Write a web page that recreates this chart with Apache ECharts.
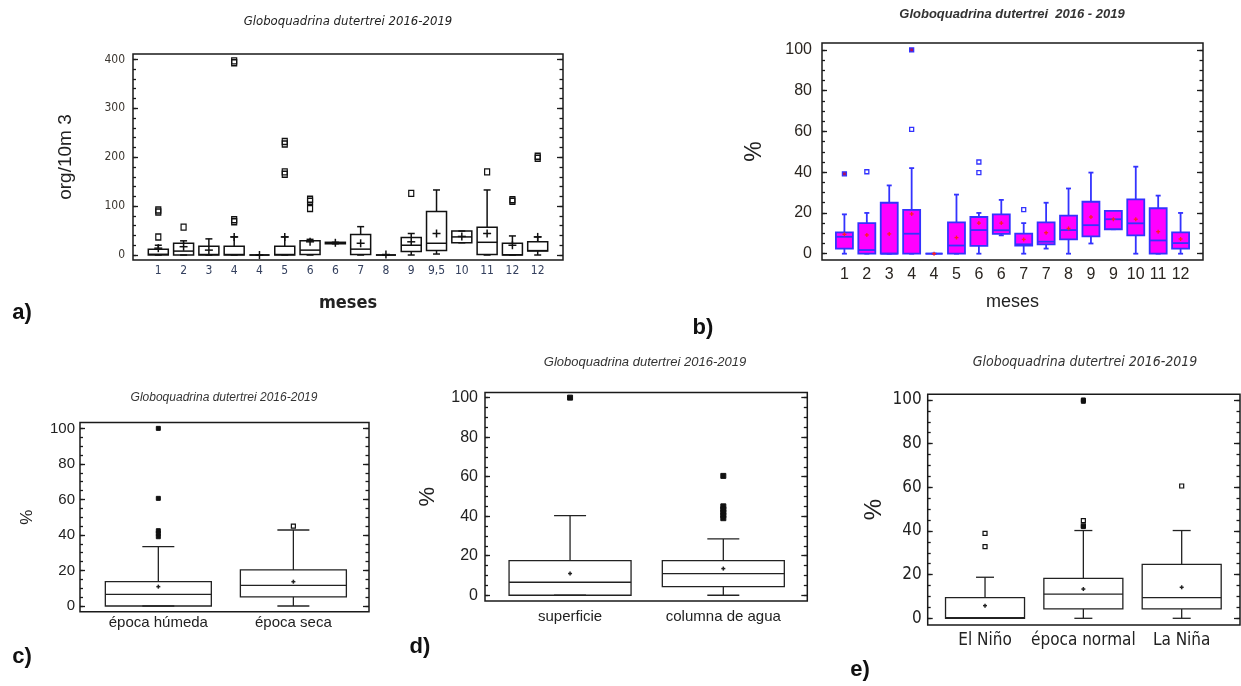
<!DOCTYPE html>
<html><head><meta charset="utf-8">
<script src="https://cdn.jsdelivr.net/npm/echarts@6/dist/echarts.min.js"></script>
<style>html,body{margin:0;padding:0;background:#fff}#c{width:1241px;height:686px}</style>
</head><body><div id="c"></div>
<script>
// ---------- DATA ----------
// panel a (org/10m3 by month)
const aLabels = ['1','2','3','4','4','5','6','6','7','8','9','9,5','10','11','12','12'];
// [min, Q1, median, Q3, max]
const aBoxes = [
  [0,0,1.5,12,20],[0,0,8,24,29],[0,0,1,18,33],[0,0,1,18,37],[0,0,0,0,0],
  [0,0,1,18,37],[0,1,10,29,32],[23,23,25,26,26],[0,1,12,42,58],[0,0,0,0,0],
  [0,7,20,36,44],[2,9,24,89,133],[25,25,37,49,49],[0,1,26,57,133],[0,0,0.5,24,39],[0,8,9,27,37]
];
const aMeans = [14,17,10,37,0,37,27,25,24,1,27,44,38,44,20,37];
const aOutliers = [[1,88],[1,92],[1,37],[2,57],[4,72],[4,68],[4,397],[4,393],[6,232],[6,227],[6,170],[6,165],
  [7,114],[7,110],[7,95],[11,126],[14,170],[15,113],[15,110],[16,202],[16,198]];

// panel b (% by month)
const bLabels = ['1','2','3','4','4','5','6','6','7','7','8','9','9','10','11','12'];
const bBoxes = [
  [0,2.5,8.3,10.5,19.3],[0,0,1.8,15,20],[0,0,0,25,33.5],[0,0,9.8,21.5,42],[0,0,0,0,0],
  [0,0,4,15.4,29],[0,3.8,11.6,18,20],[9,9.7,11.5,19.3,26.4],[0,4,4.6,9.8,15],[2.5,4.6,5.9,15.4,25],
  [0,7,11.6,18.7,32],[5,8.5,14,25.5,39.8],[12,12,16.9,21,21],[0,9,14.9,26.7,42.7],[0,0,6.5,22.3,28.5],[0,2.5,5.2,10.5,20]
];
const bMeans = [9.5,9.2,9.7,19.5,0,7.9,15,15,7,10.3,12.4,18,16.9,16.9,10.8,7.2];
const bOutliersOpen = [[2,40.2],[4,61],[7,45],[7,39.8],[9,21.6]];
const bOutliersFilled = [[1,39.2],[4,100]];

// panel c (season)
const cLabels = ['época húmeda','época seca'];
const cBoxes = [[0,0,6.6,13.7,33.4],[0,5.1,11.6,20.3,42.8]];
const cMeans = [10.9,13.7];
const cOutliersFilled = [[1,100],[1,60.6],[1,42.4],[1,40.9],[1,39]];
const cOutliersOpen = [[2,45]];

// panel d (depth)
const dLabels = ['superficie','columna de agua'];
const dBoxes = [[0,0,6.6,17.5,40.3],[0,4.4,11,17.5,28.5]];
const dMeans = [11,13.5];
const dOutliersFilled = [[1,100],[2,60.4],[2,45],[2,43.5],[2,42],[2,40.5],[2,39]];

// panel e (ENSO)
const eLabels = ['El Niño','época normal','La Niña'];
const eBoxes = [[0,0,0.3,9.5,18.8],[0,4.3,11.1,18.3,40.2],[0,4.3,9.5,24.7,40.2]];
const eMeans = [5.8,13.4,14.2];
const eOutliersOpen = [[1,38.9],[1,32.8],[2,44.7],[2,42.4],[3,60.6]];
const eOutliersFilled = [[2,100],[2,99.4],[2,42]];

const title = 'Globoquadrina dutertrei 2016-2019';

// ---------- CHART ----------
const SANS = "'Liberation Sans', Arial, sans-serif";
const NARROW = "'Liberation Sans Narrow', 'Arial Narrow', 'DejaVu Sans Condensed', sans-serif";

function steps(a, b, s) { const r = []; for (let v = a; v <= b + 1e-9; v += s) r.push(Math.round(v * 1000) / 1000); return r; }

const option = { animation: false, backgroundColor: '#fff', grid: [], xAxis: [], yAxis: [], series: [], graphic: [] };

function addPanel(p) {
  const gi = option.grid.length;
  option.grid.push({ left: p.left, top: p.top, width: p.width, height: p.height, show: true,
    borderColor: '#1a1a1a', borderWidth: 1.5, backgroundColor: 'transparent' });
  const xi = option.xAxis.length;
  const catVals = p.labels.map((_, i) => i + 1);
  option.xAxis.push({
    type: 'value', gridIndex: gi, min: p.xMin, max: p.xMax, position: 'bottom',
    axisLine: { show: false }, axisTick: { show: false }, splitLine: { show: false },
    axisLabel: { customValues: catVals, formatter: v => { const s = p.labels[Math.round(v) - 1]; return s === undefined ? '' : s; },
      margin: p.xLabel.margin, fontSize: p.xLabel.size, fontFamily: p.xLabel.family, color: p.xLabel.color || '#222' },
    name: p.xName ? p.xName.text : '', nameLocation: 'middle', nameGap: p.xName ? p.xName.gap : 0,
    nameTextStyle: p.xName ? { fontSize: p.xName.size, fontFamily: p.xName.family, fontWeight: p.xName.weight || 'normal', color: '#222' } : {}
  });
  const yi = option.yAxis.length;
  const majors = steps(0, p.yTop, p.major), minors = steps(0, p.yTop, p.minor);
  const base = { type: 'value', gridIndex: gi, min: p.yMin, max: p.yMax, splitLine: { show: false }, axisLine: { show: false } };
  const tickStyle = { color: '#1a1a1a', width: 1.3 };
  option.yAxis.push(Object.assign({}, base, { position: 'left',
    axisTick: { inside: true, length: 5, customValues: majors, lineStyle: tickStyle },
    axisLabel: { customValues: majors, margin: p.yLabel.margin, fontSize: p.yLabel.size, fontFamily: p.yLabel.family, color: p.yLabel.color || '#222' },
    name: p.yName.text, nameLocation: 'middle', nameRotate: 90, nameGap: p.yName.gap,
    nameTextStyle: { fontSize: p.yName.size, fontFamily: p.yName.family, color: '#222' } }));
  option.yAxis.push(Object.assign({}, base, { position: 'left', axisLabel: { show: false },
    axisTick: { inside: true, length: 3, customValues: minors, lineStyle: tickStyle } }));
  option.yAxis.push(Object.assign({}, base, { position: 'right', axisLabel: { show: false },
    axisTick: { inside: true, length: 6, customValues: majors, lineStyle: tickStyle } }));
  option.yAxis.push(Object.assign({}, base, { position: 'right', axisLabel: { show: false },
    axisTick: { inside: true, length: 3.5, customValues: minors, lineStyle: tickStyle } }));

  const data = p.boxes.map((b, i) => [i + 1, b[0], b[1], b[2], b[3], b[4], p.means[i]]);
  const st = p.style;
  option.series.push({
    type: 'custom', xAxisIndex: xi, yAxisIndex: yi, data: data, silent: true, z: 2,
    dimensions: ['x', 'min', 'q1', 'med', 'q3', 'max', 'mean'],
    encode: { x: 0, y: [1, 2, 3, 4, 5, 6] },
    renderItem: function (params, api) {
      const x = api.value(0);
      const c = v => api.coord([x, v]);
      const cx = c(api.value(1))[0];
      const yMin = c(api.value(1))[1], yQ1 = c(api.value(2))[1], yMed = c(api.value(3))[1],
            yQ3 = c(api.value(4))[1], yMax = c(api.value(5))[1], yMean = c(api.value(6))[1];
      const w = st.boxWidth, cw = st.capWidth, pl = st.plus;
      const ls = { stroke: st.stroke, lineWidth: st.lineWidth, fill: null };
      const L = (x1, y1, x2, y2, s) => ({ type: 'line', shape: { x1, y1, x2, y2 }, style: s || ls });
      const ms = { stroke: st.meanColor, lineWidth: st.meanWidth };
      return { type: 'group', children: [
        L(cx, yQ3, cx, yMax), L(cx, yQ1, cx, yMin),
        L(cx - cw / 2, yMax, cx + cw / 2, yMax), L(cx - cw / 2, yMin, cx + cw / 2, yMin),
        { type: 'rect', shape: { x: cx - w / 2, y: yQ3, width: w, height: yQ1 - yQ3 },
          style: { fill: st.fill, stroke: st.stroke, lineWidth: st.lineWidth } },
        L(cx - w / 2, yMed, cx + w / 2, yMed),
        L(cx - pl / 2, yMean, cx + pl / 2, yMean, ms), L(cx, yMean - pl / 2, cx, yMean + pl / 2, ms)
      ] };
    }
  });
  (p.outliers || []).forEach(o => {
    option.series.push({
      type: 'scatter', xAxisIndex: xi, yAxisIndex: yi, data: o.data, silent: true, z: 3,
      symbol: 'rect', symbolSize: o.size,
      itemStyle: { color: o.fill || 'rgba(0,0,0,0)', borderColor: o.stroke, borderWidth: o.width, opacity: 1 }
    });
  });
}

addPanel({
  left: 133, top: 54, width: 430, height: 206, xMin: 0, xMax: 17, yMin: -10.2, yMax: 411,
  yTop: 400, major: 100, minor: 20, labels: aLabels, boxes: aBoxes, means: aMeans,
  style: { boxWidth: 20, capWidth: 7, plus: 8, stroke: '#111', lineWidth: 1.5, fill: 'rgba(0,0,0,0)', meanColor: '#111', meanWidth: 1.5 },
  outliers: [{ data: aOutliers, size: [5, 6], stroke: '#111', width: 1.3 }],
  yLabel: { size: 12, family: NARROW, margin: 8, color: '#3b3630' },
  xLabel: { size: 12, family: NARROW, margin: 5, color: '#34405e' },
  yName: { text: 'org/10m 3', size: 19, family: SANS, gap: 58 },
  xName: { text: 'meses', size: 18, family: NARROW, weight: 'bold', gap: 34 }
});
addPanel({
  left: 822, top: 43, width: 381, height: 217, xMin: 0, xMax: 17, yMin: -3.1, yMax: 103.4,
  yTop: 100, major: 20, minor: 5, labels: bLabels, boxes: bBoxes, means: bMeans,
  style: { boxWidth: 17, capWidth: 5, plus: 4, stroke: '#3333ff', lineWidth: 1.8, fill: '#ff00ff', meanColor: '#ff2020', meanWidth: 1.3 },
  outliers: [{ data: bOutliersOpen, size: 4, stroke: '#3333ff', width: 1.3 },
             { data: bOutliersFilled, size: 4, stroke: '#3333ff', width: 1.3, fill: '#b0105a' }],
  yLabel: { size: 16, family: SANS, margin: 10, color: '#2a2520' },
  xLabel: { size: 16, family: SANS, margin: 7, color: '#2a2520' },
  yName: { text: '%', size: 23, family: SANS, gap: 56 },
  xName: { text: 'meses', size: 18, family: SANS, gap: 33 }
});
addPanel({
  left: 80, top: 422.5, width: 289, height: 189.2, xMin: 0.42, xMax: 2.56, yMin: -3.2, yMax: 103.3,
  yTop: 100, major: 20, minor: 5, labels: cLabels, boxes: cBoxes, means: cMeans,
  style: { boxWidth: 106, capWidth: 32, plus: 4, stroke: '#222', lineWidth: 1.3, fill: 'rgba(0,0,0,0)', meanColor: '#222', meanWidth: 1.5 },
  outliers: [{ data: cOutliersFilled, size: 4, stroke: '#111', width: 1, fill: '#111' },
             { data: cOutliersOpen, size: 4, stroke: '#111', width: 1.2 }],
  yLabel: { size: 15, family: SANS, margin: 5 },
  xLabel: { size: 15, family: SANS, margin: 4 },
  yName: { text: '%', size: 17, family: SANS, gap: 44 }
});
addPanel({
  left: 485, top: 392.5, width: 322.3, height: 208.5, xMin: 0.445, xMax: 2.548, yMin: -2.9, yMax: 102.6,
  yTop: 100, major: 20, minor: 5, labels: dLabels, boxes: dBoxes, means: dMeans,
  style: { boxWidth: 122, capWidth: 32, plus: 4, stroke: '#222', lineWidth: 1.3, fill: 'rgba(0,0,0,0)', meanColor: '#222', meanWidth: 1.5 },
  outliers: [{ data: dOutliersFilled, size: 5, stroke: '#111', width: 1, fill: '#111' }],
  yLabel: { size: 16, family: SANS, margin: 7 },
  xLabel: { size: 15, family: SANS, margin: 8 },
  yName: { text: '%', size: 22, family: SANS, gap: 46 }
});
addPanel({
  left: 927.7, top: 394.3, width: 312.3, height: 230.7, xMin: 0.417, xMax: 3.593, yMin: -3.07, yMax: 102.6,
  yTop: 100, major: 20, minor: 5, labels: eLabels, boxes: eBoxes, means: eMeans,
  style: { boxWidth: 79, capWidth: 18, plus: 4, stroke: '#222', lineWidth: 1.3, fill: 'rgba(0,0,0,0)', meanColor: '#222', meanWidth: 1.5 },
  outliers: [{ data: eOutliersOpen, size: 4, stroke: '#111', width: 1.2 },
             { data: eOutliersFilled, size: 4, stroke: '#111', width: 1, fill: '#111' }],
  yLabel: { size: 17, family: NARROW, margin: 6 },
  xLabel: { size: 17, family: NARROW, margin: 7 },
  yName: { text: '%', size: 24, family: SANS, gap: 41 }
});

function txt(x, y, text, font, color) {
  option.graphic.push({ type: 'text', x: x, y: y, silent: true,
    style: { text: text, font: font, fill: color || '#222', align: 'center', verticalAlign: 'middle' } });
}
txt(348, 22, title, 'italic 13px ' + NARROW, '#222');
txt(1012, 14, 'Globoquadrina dutertrei  2016 - 2019', 'italic bold 13px ' + SANS, '#333');
txt(224, 398, title, 'italic 12px ' + SANS, '#333');
txt(645, 362, title, 'italic 13px ' + SANS, '#333');
txt(1085, 362, title, 'italic 14px ' + NARROW, '#333');
txt(22, 313, 'a)', 'bold 22px ' + SANS, '#111');
txt(703, 328, 'b)', 'bold 22px ' + SANS, '#111');
txt(22, 657, 'c)', 'bold 22px ' + SANS, '#111');
txt(420, 647, 'd)', 'bold 22px ' + SANS, '#111');
txt(860, 670, 'e)', 'bold 22px ' + SANS, '#111');

const chart = echarts.init(document.getElementById('c'), null, { renderer: 'canvas' });
chart.setOption(option);
</script></body></html>
